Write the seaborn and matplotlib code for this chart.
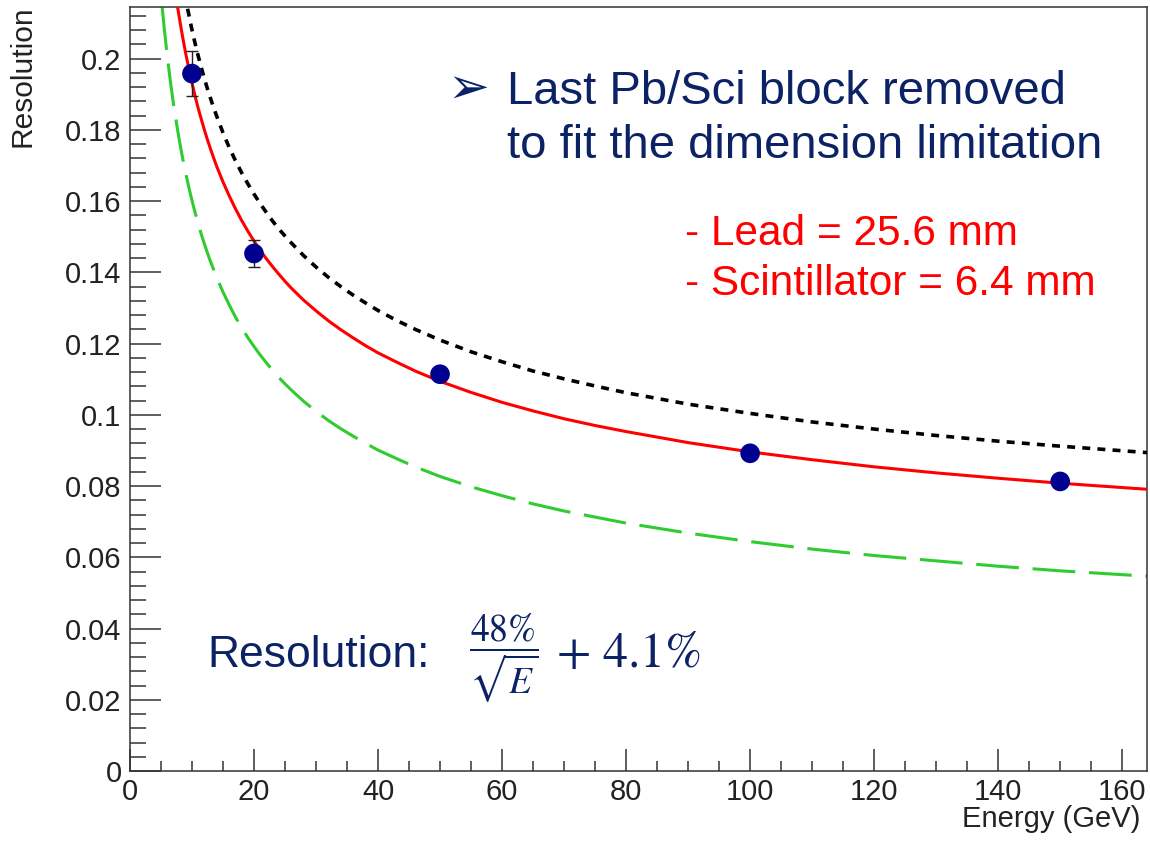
import numpy as np
import pandas as pd
import seaborn as sns
import matplotlib.pyplot as plt
from matplotlib.ticker import MultipleLocator, FuncFormatter

# puntos medidos (energia en GeV, resolucion, error)
energy = [10, 20, 50, 100, 150]
resolution = [0.1958, 0.1453, 0.1114, 0.0892, 0.0813]
res_err = [0.0063, 0.0038, 0.0020, 0.0012, 0.0010]

# curva de ajuste (roja, continua)
fit_e = [7.7, 8, 8.5, 9, 9.5, 10, 10.5, 11, 11.5, 12, 12.5, 13, 13.5, 14, 15, 16, 17,
         18, 19, 20, 21, 22, 23, 24, 25, 26, 27, 28, 30, 32, 34, 36, 38, 40, 43, 46,
         50, 55, 60, 65, 70, 75, 80, 90, 100, 110, 120, 130, 140, 150, 164]
fit_res = [0.2143, 0.2111, 0.2060, 0.2014, 0.1971, 0.1932, 0.1895, 0.1861, 0.1830,
           0.1800, 0.1772, 0.1746, 0.1721, 0.1697, 0.1654, 0.1615, 0.1579, 0.1546,
           0.1516, 0.1488, 0.1462, 0.1438, 0.1416, 0.1395, 0.1375, 0.1356, 0.1339,
           0.1322, 0.1292, 0.1264, 0.1239, 0.1216, 0.1194, 0.1174, 0.1148, 0.1123,
           0.1094, 0.1063, 0.1035, 0.1011, 0.0989, 0.0970, 0.0953, 0.0922, 0.0896,
           0.0874, 0.0854, 0.0837, 0.0822, 0.0808, 0.0791]

# curva negra punteada
ref_e = [9.3, 9.6, 10, 10.5, 11, 11.5, 12, 12.5, 13, 13.5, 14, 15, 16, 17, 18, 19, 20,
         21, 22, 23, 24, 25, 26, 27, 28, 30, 32, 34, 36, 38, 40, 43, 46, 50, 55, 60,
         65, 70, 75, 80, 90, 100, 110, 120, 130, 140, 150, 164]
ref_res = [0.2140, 0.2114, 0.2081, 0.2043, 0.2008, 0.1975, 0.1944, 0.1915, 0.1888,
           0.1862, 0.1838, 0.1792, 0.1751, 0.1714, 0.1680, 0.1649, 0.1620, 0.1593,
           0.1568, 0.1544, 0.1522, 0.1502, 0.1483, 0.1465, 0.1447, 0.1415, 0.1386,
           0.1360, 0.1336, 0.1314, 0.1293, 0.1265, 0.1240, 0.1210, 0.1177, 0.1149,
           0.1123, 0.1101, 0.1081, 0.1062, 0.1030, 0.1004, 0.0980, 0.0960, 0.0942,
           0.0926, 0.0912, 0.0894]

# curva verde discontinua
low_e = [5.2, 5.5, 6, 6.5, 7, 7.5, 8, 8.5, 9, 9.5, 10, 10.5, 11, 11.5, 12, 12.5, 13,
         14, 15, 16, 17, 18, 19, 20, 21, 22, 23, 24, 25, 26, 28, 30, 32, 34, 36, 38,
         40, 43, 46, 50, 55, 60, 65, 70, 75, 80, 90, 100, 110, 120, 130, 140, 150, 164]
low_res = [0.2144, 0.2090, 0.2009, 0.1939, 0.1875, 0.1819, 0.1767, 0.1720, 0.1678,
           0.1638, 0.1602, 0.1568, 0.1537, 0.1507, 0.1480, 0.1454, 0.1430, 0.1385,
           0.1345, 0.1309, 0.1275, 0.1245, 0.1217, 0.1192, 0.1168, 0.1146, 0.1125,
           0.1105, 0.1087, 0.1070, 0.1038, 0.1010, 0.0984, 0.0961, 0.0940, 0.0920,
           0.0901, 0.0877, 0.0854, 0.0827, 0.0798, 0.0773, 0.0750, 0.0730, 0.0713,
           0.0696, 0.0668, 0.0644, 0.0623, 0.0605, 0.0590, 0.0575, 0.0562, 0.0547]

sns.set_theme(style="white")
plt.rcParams['font.family'] = ['Liberation Sans', 'DejaVu Sans']
plt.rcParams['mathtext.fontset'] = 'stix'

navy = '#0b2265'
axcol = '#333333'

fig = plt.figure(figsize=(11.5, 8.42), dpi=100)
ax = fig.add_axes([0.113, 0.0843, 0.8844, 0.9074])

sns.lineplot(x=low_e, y=low_res, ax=ax, color='#2fcc2f', lw=2.2,
             linestyle=(0, (14, 4.5)), sort=False, zorder=2)
sns.lineplot(x=ref_e, y=ref_res, ax=ax, color='black', lw=2.6,
             linestyle=(0, (2.2, 2.0)), sort=False, zorder=3)
sns.lineplot(x=fit_e, y=fit_res, ax=ax, color='#ff0000', lw=2.2, sort=False, zorder=4)

ax.errorbar(energy, resolution, yerr=res_err, fmt='none', ecolor='#222222',
            elinewidth=1.0, capsize=4, capthick=1.0, zorder=5)
sns.scatterplot(x=energy, y=resolution, ax=ax, s=200, color='#000090',
                edgecolor='none', zorder=6)

ax.set_xlim(0, 164)
ax.set_ylim(0, 0.2145)
ax.xaxis.set_major_locator(MultipleLocator(20))
ax.xaxis.set_minor_locator(MultipleLocator(5))
ax.yaxis.set_major_locator(MultipleLocator(0.02))
ax.yaxis.set_minor_locator(MultipleLocator(0.004))
ax.yaxis.set_major_formatter(FuncFormatter(lambda v, p: f"{v:g}"))

ax.tick_params(axis='both', which='both', direction='in', colors=axcol,
               labelcolor='#222222', labelsize=21, bottom=True, left=True,
               top=False, right=False)
ax.tick_params(axis='x', which='major', length=16, width=1.1, pad=5)
ax.tick_params(axis='x', which='minor', length=7.5, width=1.1)
ax.tick_params(axis='y', which='major', length=22, width=1.1, pad=6)
ax.tick_params(axis='y', which='minor', length=11.5, width=1.1)
for sp in ax.spines.values():
    sp.set_color(axcol)
    sp.set_linewidth(1.1)

ax.set_xlabel('Energy (GeV)', fontsize=21, color='#222222', loc='right')
ax.set_ylabel('Resolution', fontsize=21.5, color='#222222', loc='top')
ax.xaxis.set_label_coords(0.993, -0.045)
ax.yaxis.set_label_coords(-0.0914, 1.002)

# anotaciones
fig.text(0.3887, 0.8777, '\u27a2', fontsize=36, color=navy, va='baseline')
fig.text(0.4409, 0.8765, 'Last Pb/Sci block removed', fontsize=34, color=navy,
         va='baseline')
fig.text(0.4409, 0.8124, 'to fit the dimension limitation', fontsize=34, color=navy,
         va='baseline')
fig.text(0.5957, 0.709, '- Lead = 25.6 mm', fontsize=30.5, color='#ff0000',
         va='baseline')
fig.text(0.5957, 0.6496, '- Scintillator = 6.4 mm', fontsize=30.5, color='#ff0000',
         va='baseline')
fig.text(0.18, 0.2078, 'Resolution:', fontsize=32, color=navy, va='baseline')
fig.text(0.408, 0.2185, r'$\dfrac{48\%}{\sqrt{E}}$', fontsize=27, color=navy,
         va='center')
fig.text(0.4835, 0.2078, r'$+\ 4.1\%$', fontsize=36, color=navy, va='baseline')

fig.savefig('out.png', dpi=100)
